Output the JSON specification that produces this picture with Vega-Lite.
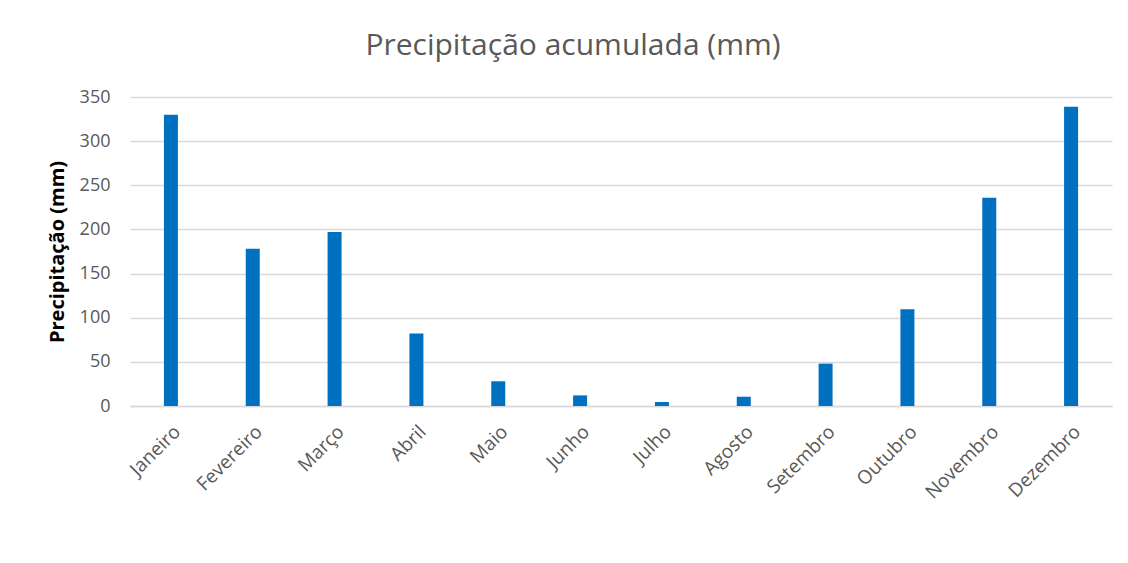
{
  "$schema": "https://vega.github.io/schema/vega-lite/v6.json",
  "autosize": {"type": "none"},
  "width": 982,
  "height": 309,
  "padding": {"left": 130, "top": 97, "right": 16, "bottom": 157},
  "background": "white",
  "config": {"view": {"stroke": null}, "font": "Open Sans"},
  "title": {
    "text": "Precipitação acumulada (mm)",
    "fontSize": 30,
    "fontWeight": "normal",
    "color": "#595959",
    "font": "Open Sans",
    "anchor": "middle",
    "baseline": "alphabetic",
    "dx": -48,
    "offset": 3
  },
  "data": {
    "values": [
      {"mes": "Janeiro", "p": 330},
      {"mes": "Fevereiro", "p": 178},
      {"mes": "Março", "p": 197},
      {"mes": "Abril", "p": 82},
      {"mes": "Maio", "p": 28},
      {"mes": "Junho", "p": 12},
      {"mes": "Julho", "p": 4.5},
      {"mes": "Agosto", "p": 10.5},
      {"mes": "Setembro", "p": 48},
      {"mes": "Outubro", "p": 109.5},
      {"mes": "Novembro", "p": 236},
      {"mes": "Dezembro", "p": 339}
    ]
  },
  "mark": {"type": "bar", "size": 14, "color": "#0070C0"},
  "encoding": {
    "x": {
      "field": "mes",
      "type": "nominal",
      "sort": null,
      "scale": {"paddingInner": 0, "paddingOuter": 0},
      "axis": {
        "title": null,
        "labelAngle": -45,
        "labelFontSize": 19,
        "labelColor": "#595959",
        "labelPadding": 16,
        "ticks": false,
        "domainColor": "#d9d9d9",
        "domainWidth": 1.5
      }
    },
    "y": {
      "field": "p",
      "type": "quantitative",
      "scale": {"domain": [0, 350], "nice": false},
      "axis": {
        "title": "Precipitação (mm)",
        "titleFontSize": 20,
        "titleFontWeight": "bold",
        "titleColor": "#000000",
        "titlePadding": 12,
        "values": [0, 50, 100, 150, 200, 250, 300, 350],
        "labelFontSize": 18,
        "labelColor": "#595959",
        "labelPadding": 20,
        "ticks": false,
        "domain": false,
        "gridColor": "#d9d9d9",
        "gridWidth": 1.5
      }
    }
  }
}
